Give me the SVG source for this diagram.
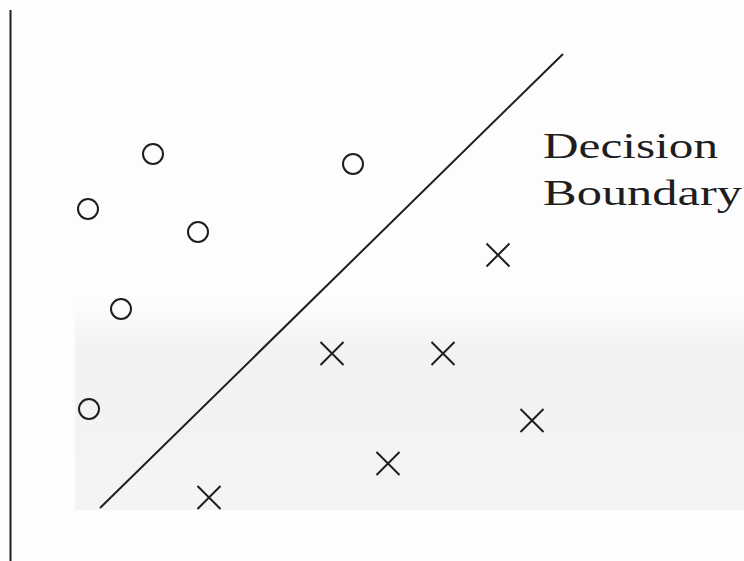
<svg xmlns="http://www.w3.org/2000/svg" width="744" height="561" viewBox="0 0 744 561">
<defs>
<linearGradient id="shade" x1="0" y1="0" x2="0" y2="1">
<stop offset="0" stop-color="#f2f2f2" stop-opacity="0"/>
<stop offset="0.25" stop-color="#f2f2f2" stop-opacity="1"/>
<stop offset="1" stop-color="#f4f4f4" stop-opacity="1"/>
</linearGradient>
</defs>
<style>
.o{fill:none;stroke:#1e1e1e;stroke-width:2}
.x{stroke:#1e1e1e;stroke-width:2;fill:none}
.ln{stroke:#1e1e1e;stroke-width:2;fill:none}
.t{font-family:"Liberation Serif","Times New Roman",serif;font-size:35px;fill:#1e1e1e}
</style>
<rect width="744" height="561" fill="#fdfdfd"/>
<rect x="75" y="300" width="669" height="210" fill="url(#shade)"/>
<g id="axis"><line class="ln" x1="10.5" y1="10" x2="10.5" y2="561"/></g>
<g id="circles">
<g id="o1"><circle class="o" cx="153" cy="154" r="10"/></g>
<g id="o2"><circle class="o" cx="88" cy="209" r="10"/></g>
<g id="o3"><circle class="o" cx="198" cy="232" r="10"/></g>
<g id="o4"><circle class="o" cx="121" cy="309" r="10"/></g>
<g id="o5"><circle class="o" cx="89" cy="409" r="10"/></g>
<g id="o6"><circle class="o" cx="353" cy="164" r="10"/></g>
</g>
<g id="crosses">
<g id="x1"><path class="x" d="M486.5 243.5l23 23M509.5 243.5l-23 23"/></g>
<g id="x2"><path class="x" d="M320.5 342l23 23M343.5 342l-23 23"/></g>
<g id="x3"><path class="x" d="M431.5 342l23 23M454.5 342l-23 23"/></g>
<g id="x4"><path class="x" d="M520.5 409l23 23M543.5 409l-23 23"/></g>
<g id="x5"><path class="x" d="M376.5 452l23 23M399.5 452l-23 23"/></g>
<g id="x6"><path class="x" d="M197.5 486l23 23M220.5 486l-23 23"/></g>
</g>
<g id="connectors">
<line id="boundary" class="ln" x1="100" y1="508" x2="563" y2="54"/>
</g>
<g id="label">
<text class="t" x="543" y="158" textLength="175" lengthAdjust="spacingAndGlyphs">Decision</text>
<text class="t" x="543" y="205" textLength="199" lengthAdjust="spacingAndGlyphs">Boundary</text>
</g>
</svg>
